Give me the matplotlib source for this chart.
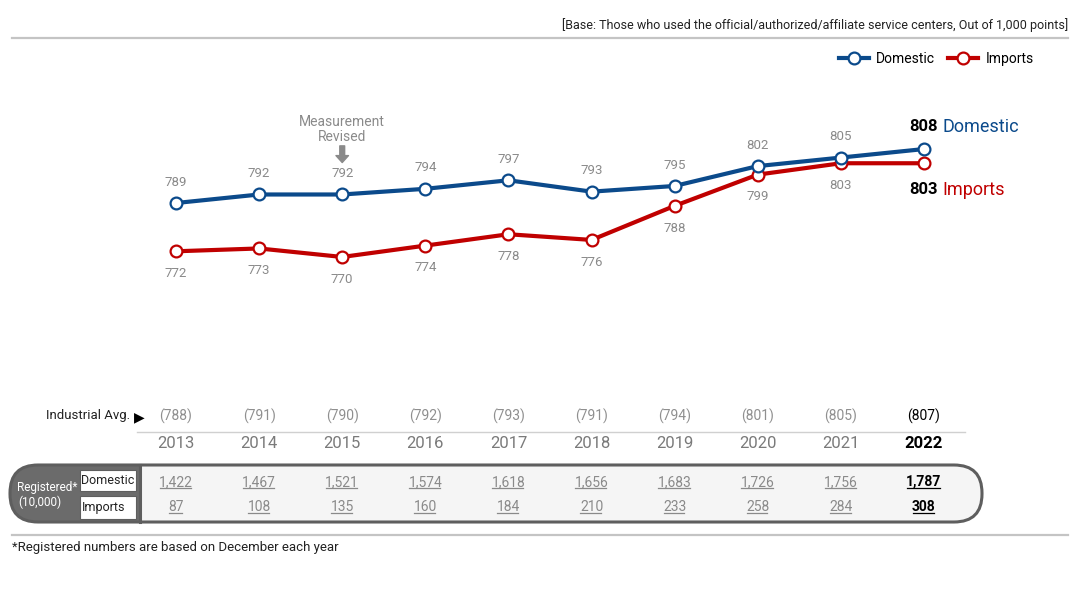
import matplotlib.pyplot as plt
from matplotlib.patches import FancyBboxPatch, Rectangle
from matplotlib.lines import Line2D
from matplotlib.transforms import Affine2D, IdentityTransform, blended_transform_factory

plt.rcParams['font.family'] = ['Roboto', 'DejaVu Sans']

years = [2013, 2014, 2015, 2016, 2017, 2018, 2019, 2020, 2021, 2022]
domestic = [789, 792, 792, 794, 797, 793, 795, 802, 805, 808]
imports = [772, 773, 770, 774, 778, 776, 788, 799, 803, 803]
industry_avg = [788, 791, 790, 792, 793, 791, 794, 801, 805, 807]
reg_domestic = ["1,422", "1,467", "1,521", "1,574", "1,618", "1,656", "1,683", "1,726", "1,756", "1,787"]
reg_imports = ["87", "108", "135", "160", "184", "210", "233", "258", "284", "308"]

BLUE = "#0b4a8b"
RED = "#c00000"
GRAY = "#8a8a8a"

W, H = 1080, 592
fig = plt.figure(figsize=(W / 100, H / 100), dpi=100)
# pixel coordinates measured from the top-left corner
pxT = Affine2D().scale(1 / W, -1 / H).translate(0, 1) + fig.transFigure

ax = fig.add_axes([134.45 / W, 1 - 300 / H, 831.1 / W, 200 / H])
ax.set_xlim(2012.5, 2022.5)
ax.set_ylim(754.85, 825.27)
ax.axis("off")

ax.plot(years, domestic, color=BLUE, lw=3, marker="o", ms=8.5,
        mfc="white", mec=BLUE, mew=1.6, label="Domestic", zorder=3)
ax.plot(years, imports, color=RED, lw=3, marker="o", ms=8.5,
        mfc="white", mec=RED, mew=1.6, label="Imports", zorder=2)

for x, d, i in zip(years[:-1], domestic[:-1], imports[:-1]):
    ax.annotate(str(d), (x, d), xytext=(0, 15), textcoords="offset points",
                ha="center", va="center", color=GRAY, fontsize=9.5)
    ax.annotate(str(i), (x, i), xytext=(0, -16), textcoords="offset points",
                ha="center", va="center", color=GRAY, fontsize=9.5)

# end labels
ax.annotate(str(domestic[-1]), (years[-1], domestic[-1]), xytext=(10, 16),
            textcoords="offset points", ha="right", va="center",
            fontsize=12, fontweight="bold", color="black")
ax.annotate("Domestic", (years[-1], domestic[-1]), xytext=(13.5, 16),
            textcoords="offset points", ha="left", va="center",
            fontsize=13, color=BLUE)
ax.annotate(str(imports[-1]), (years[-1], imports[-1]), xytext=(10, -19),
            textcoords="offset points", ha="right", va="center",
            fontsize=12, fontweight="bold", color="black")
ax.annotate("Imports", (years[-1], imports[-1]), xytext=(13.5, -19),
            textcoords="offset points", ha="left", va="center",
            fontsize=13, color=RED)

# measurement revised note
ax.annotate("Measurement\nRevised", (2015, domestic[2]), xytext=(0, 47),
            textcoords="offset points", ha="center", va="center",
            color=GRAY, fontsize=10, linespacing=1.1)
ax.annotate("", xy=(2015, domestic[2]), xytext=(0, 35), textcoords="offset points",
            xycoords="data",
            arrowprops=dict(arrowstyle="simple,head_width=0.9,head_length=0.5,tail_width=0.35",
                            color="#8a8a8a", shrinkA=0, shrinkB=23))

fig.legend(loc="center right", bbox_to_anchor=(1046 / W, 1 - 59 / H), ncol=2,
           frameon=False, handlelength=2.2, columnspacing=0.9, handletextpad=0.5,
           fontsize=10)

# header
fig.text(1068 / W, 1 - 25 / H,
         "[Base: Those who used the official/authorized/affiliate service centers, Out of 1,000 points]",
         ha="right", va="center", fontsize=9, color="#222222")
fig.add_artist(Line2D([12, 1068], [38, 38], transform=pxT, color="#c4c4c4", lw=1.6))

# table rows
tr = blended_transform_factory(ax.transData, fig.transFigure)
fig.text(130 / W, 1 - 416 / H, "Industrial Avg.", ha="right", va="center",
         fontsize=9.5, color="#222222")
fig.text(139 / W, 1 - 417 / H, "\u25B6", ha="center", va="center",
         fontsize=10, color="black", family="DejaVu Sans")
fig.add_artist(Line2D([137, 965], [432, 432], transform=pxT, color="#d0d0d0", lw=1))

# registered box
box = FancyBboxPatch((10, 465), 972, 57, boxstyle="round,pad=0,rounding_size=28",
                     transform=pxT, facecolor="#6b6b6b", edgecolor="none")
fig.add_artist(box)
light = Rectangle((140, 460), 850, 70, transform=pxT, facecolor="#f5f5f5", edgecolor="none")
fig.add_artist(light)
light.set_clip_path(box)
outline = FancyBboxPatch((10, 465), 972, 57, boxstyle="round,pad=0,rounding_size=28",
                         transform=pxT, facecolor="none", edgecolor="#5e5e5e", lw=2.2)
fig.add_artist(outline)
fig.add_artist(Line2D([140, 140], [465, 522], transform=pxT, color="#5e5e5e", lw=2.2))
for y0, y1 in [(470, 491), (496, 519)]:
    fig.add_artist(Rectangle((80, y0), 56, y1 - y0, transform=pxT,
                             facecolor="white", edgecolor="#5e5e5e", lw=0.8))
fig.text(108 / W, 1 - 480 / H, "Domestic", ha="center", va="center", fontsize=9, color="#222222")
fig.text(104 / W, 1 - 507 / H, "Imports", ha="center", va="center", fontsize=9, color="#222222")
fig.text(47 / W, 1 - 487 / H, "Registered*", ha="center", va="center", fontsize=8.5, color="white")
fig.text(40 / W, 1 - 502 / H, "(10,000)", ha="center", va="center", fontsize=8.5, color="white")

under = []
for k, x in enumerate(years):
    last = k == len(years) - 1
    c = "black" if last else GRAY
    wt = "bold" if last else "normal"
    fig.text(x, 1 - 416 / H, "(%d)" % industry_avg[k], transform=tr, ha="center",
             va="center", fontsize=10, color="black" if last else "#8f8f8f")
    fig.text(x, 1 - 444 / H, str(x), transform=tr, ha="center", va="center",
             fontsize=12, color="black" if last else "#7a7a7a", fontweight=wt)
    under.append(fig.text(x, 1 - 482 / H, reg_domestic[k], transform=tr, ha="center",
                          va="center", fontsize=10, color=c, fontweight=wt))
    under.append(fig.text(x, 1 - 507 / H, reg_imports[k], transform=tr, ha="center",
                          va="center", fontsize=10, color=c, fontweight=wt))

fig.add_artist(Line2D([12, 1068], [535, 535], transform=pxT, color="#c4c4c4", lw=1.6))
fig.text(12 / W, 1 - 548 / H, "*Registered numbers are based on December each year",
         ha="left", va="center", fontsize=9.5, color="#222222")

# underline the registered numbers
fig.canvas.draw()
rend = fig.canvas.get_renderer()
for t in under:
    bb = t.get_window_extent(rend)
    fig.add_artist(Line2D([bb.x0 + 0.5, bb.x1 - 2], [bb.y0 + 1, bb.y0 + 1],
                          transform=IdentityTransform(), color=t.get_color(), lw=0.9))

fig.savefig("out.png", dpi=100)
